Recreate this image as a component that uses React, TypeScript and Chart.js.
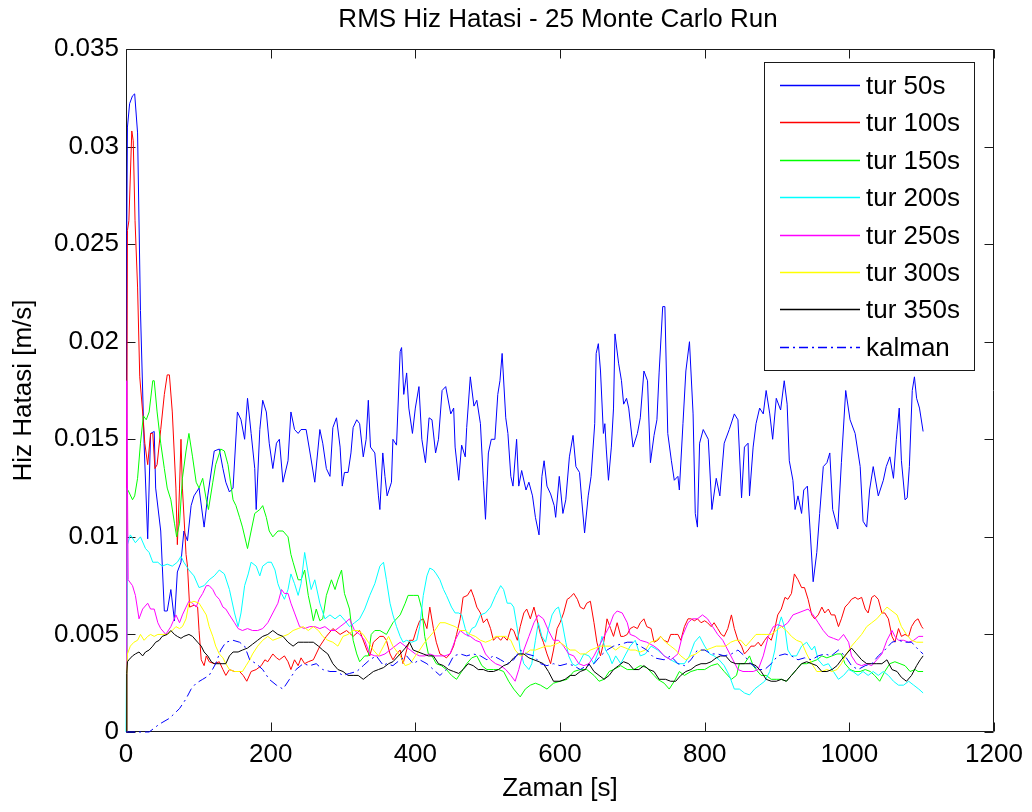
import React, { useEffect, useRef } from "react";
import { Chart, registerables } from "chart.js";

Chart.register(...registerables);

const TITLE = "RMS Hiz Hatasi - 25 Monte Carlo Run";
const X_LABEL = "Zaman [s]";
const Y_LABEL = "Hiz Hatasi [m/s]";
const X_TICKS = [0, 200, 400, 600, 800, 1000, 1200];
const Y_TICKS = [0, 0.005, 0.01, 0.015, 0.02, 0.025, 0.03, 0.035];

const SERIES_LABELS = ["tur 50s", "tur 100s", "tur 150s", "tur 200s", "tur 250s", "tur 300s", "tur 350s", "kalman"];
const SERIES_COLORS = ["#0000ff", "#ff0000", "#00ff00", "#00ffff", "#ff00ff", "#ffff00", "#000000", "#0000ff"];

const TUR50: [number, number][] = [[0,0],[1,0.0255],[2,0.031],[5,0.0322],[9,0.0326],[12,0.0327],[16,0.0307],[20,0.0216],[25,0.0148],[30,0.0099],[34,0.0153],[39,0.0154],[41,0.0125],[48,0.0103],[53,0.0062],[57,0.0062],[62,0.0073],[67,0.0057],[71,0.0082],[76,0.0087],[80,0.0103],[85,0.0098],[90,0.0116],[94,0.0121],[101,0.0125],[108,0.0105],[113,0.0121],[122,0.0144],[129,0.0145],[134,0.0135],[138,0.0128],[143,0.0123],[148,0.0125],[154,0.0164],[159,0.016],[164,0.015],[168,0.0171],[173,0.0153],[178,0.0135],[180,0.0114],[185,0.0155],[189,0.017],[194,0.0164],[198,0.0148],[203,0.0135],[208,0.0148],[212,0.015],[217,0.0128],[224,0.0139],[228,0.0164],[233,0.0155],[238,0.0153],[242,0.0155],[249,0.0155],[254,0.0144],[261,0.0128],[268,0.0155],[272,0.0148],[277,0.0135],[282,0.0131],[286,0.0156],[291,0.0161],[296,0.0146],[299,0.0126],[302,0.0133],[307,0.0133],[311,0.0143],[314,0.0156],[319,0.016],[323,0.0158],[328,0.0141],[332,0.015],[335,0.017],[338,0.0146],[344,0.0143],[349,0.0121],[351,0.0114],[355,0.0143],[358,0.0131],[361,0.0121],[367,0.0128],[369,0.015],[374,0.0147],[379,0.0195],[381,0.0197],[384,0.0173],[388,0.0184],[391,0.0166],[396,0.0153],[400,0.0166],[405,0.0177],[409,0.015],[414,0.0138],[419,0.0161],[423,0.016],[428,0.0143],[432,0.015],[437,0.0175],[442,0.0177],[449,0.0163],[453,0.0166],[455,0.0146],[460,0.0129],[464,0.0147],[469,0.0141],[471,0.0156],[476,0.0182],[481,0.0167],[485,0.017],[490,0.0158],[494,0.0129],[497,0.0109],[501,0.0143],[505,0.015],[510,0.015],[514,0.0173],[517,0.018],[520,0.0194],[525,0.0161],[528,0.0153],[532,0.0131],[535,0.0126],[540,0.015],[543,0.0126],[547,0.0134],[553,0.0124],[557,0.0128],[562,0.0121],[566,0.011],[571,0.0101],[575,0.0131],[578,0.0139],[582,0.0126],[587,0.0122],[592,0.0116],[594,0.011],[599,0.0131],[604,0.0112],[608,0.0119],[613,0.0141],[618,0.0152],[622,0.0136],[627,0.0133],[630,0.0119],[634,0.0102],[639,0.0121],[643,0.0131],[648,0.0158],[650,0.0194],[653,0.0199],[656,0.0185],[660,0.0153],[662,0.0158],[664,0.0145],[667,0.0129],[671,0.0146],[674,0.0166],[676,0.0204],[681,0.0189],[685,0.018],[688,0.0168],[692,0.0171],[695,0.0166],[701,0.0146],[707,0.0153],[711,0.0161],[716,0.0185],[721,0.018],[725,0.0138],[730,0.0152],[734,0.016],[737,0.0184],[742,0.0218],[745,0.0218],[749,0.0153],[754,0.0139],[758,0.0129],[763,0.0131],[765,0.0124],[770,0.0158],[774,0.0185],[779,0.02],[784,0.0163],[787,0.0112],[790,0.0105],[793,0.0148],[798,0.0155],[805,0.015],[810,0.0114],[816,0.013],[821,0.0121],[827,0.0148],[834,0.0155],[841,0.0163],[846,0.016],[851,0.012],[855,0.0146],[860,0.0148],[862,0.0121],[867,0.0146],[871,0.0158],[876,0.0166],[881,0.0163],[885,0.0175],[890,0.0163],[894,0.015],[899,0.0171],[905,0.0165],[910,0.018],[914,0.0168],[917,0.0139],[922,0.0129],[925,0.0114],[929,0.0121],[934,0.0112],[937,0.0124],[942,0.0126],[946,0.0102],[950,0.0077],[955,0.0092],[959,0.0112],[964,0.0136],[969,0.0138],[973,0.0143],[977,0.0114],[984,0.0104],[989,0.0138],[995,0.0175],[1001,0.016],[1008,0.0153],[1015,0.0136],[1019,0.0108],[1024,0.0105],[1028,0.0124],[1033,0.0136],[1040,0.0121],[1047,0.0129],[1051,0.0136],[1056,0.0141],[1061,0.013],[1065,0.015],[1069,0.0166],[1072,0.0139],[1077,0.0119],[1080,0.012],[1083,0.0136],[1087,0.0175],[1090,0.0182],[1093,0.0171],[1097,0.0166],[1102,0.0154]];

const TUR100: [number, number][] = [[0,0],[1,0.0148],[2,0.0257],[4,0.0262],[8,0.0308],[10,0.0303],[12.5,0.0262],[16,0.0228],[19,0.0182],[23,0.0164],[26,0.0148],[30,0.0137],[34,0.0153],[37,0.0153],[40,0.0135],[43,0.0137],[48,0.0155],[53,0.0173],[57,0.0183],[60,0.0183],[64,0.0164],[69,0.0125],[71,0.0096],[74,0.0125],[76,0.015],[78,0.0125],[83,0.0091],[85,0.0085],[88,0.0064],[94,0.0065],[99,0.0064],[101,0.0052],[104,0.0037],[108,0.0034],[111,0.0039],[115,0.0036],[122,0.0035],[129,0.0036],[134,0.0032],[138,0.0029],[143,0.0032],[150,0.0031],[157,0.0031],[162,0.0029],[167,0.0026],[173,0.0031],[180,0.0032],[187,0.0034],[192,0.0037],[196,0.0036],[203,0.004],[208,0.0038],[212,0.0037],[219,0.0039],[224,0.0036],[228,0.0032],[233,0.0037],[238,0.0034],[242,0.0038],[247,0.0035],[252,0.0036],[259,0.0037],[268,0.0044],[277,0.0049],[286,0.0053],[296,0.005],[305,0.0052],[314,0.0049],[323,0.0052],[333,0.0042],[337,0.0039],[342,0.0046],[351,0.0049],[356,0.0049],[360,0.0047],[365,0.004],[369,0.0037],[374,0.004],[379,0.0042],[383,0.0035],[388,0.0042],[392,0.0047],[397,0.0047],[402,0.0053],[406,0.0057],[411,0.0058],[416,0.0053],[420,0.0064],[425,0.0053],[429,0.0046],[434,0.004],[439,0.0039],[443,0.0038],[448,0.004],[453,0.0044],[457,0.005],[462,0.0058],[466,0.0069],[472,0.007],[477,0.0073],[481,0.0069],[485,0.0064],[490,0.0061],[494,0.0056],[499,0.0058],[504,0.0053],[508,0.0047],[513,0.0049],[518,0.0047],[522,0.0049],[527,0.0047],[532,0.0053],[536,0.0052],[541,0.0047],[545,0.0054],[550,0.0061],[554,0.0063],[559,0.0058],[564,0.0064],[568,0.0058],[573,0.005],[577,0.0046],[582,0.004],[587,0.0035],[591,0.0042],[596,0.0053],[600,0.0056],[605,0.0061],[610,0.0068],[614,0.0069],[619,0.0071],[624,0.0068],[628,0.0064],[633,0.0063],[637,0.0066],[642,0.0067],[647,0.0056],[651,0.0046],[656,0.0039],[661,0.0047],[665,0.0058],[670,0.0053],[674,0.0049],[679,0.0056],[684,0.0049],[688,0.0049],[693,0.005],[697,0.0053],[702,0.0054],[707,0.0053],[711,0.0056],[716,0.0058],[720,0.0054],[726,0.0053],[730,0.0046],[735,0.0047],[739,0.0049],[744,0.0047],[749,0.0046],[753,0.005],[758,0.005],[763,0.005],[767,0.0047],[772,0.0054],[777,0.0058],[781,0.0058],[786,0.0057],[790,0.0058],[795,0.0056],[800,0.0057],[804,0.0056],[809,0.0054],[813,0.0056],[818,0.0053],[823,0.005],[827,0.0049],[832,0.0053],[837,0.006],[841,0.0053],[846,0.0047],[851,0.0044],[855,0.004],[860,0.0042],[864,0.0044],[869,0.0044],[874,0.0046],[878,0.0044],[883,0.0047],[887,0.0049],[892,0.0047],[897,0.0053],[901,0.006],[906,0.0063],[911,0.0069],[915,0.0068],[920,0.0071],[924,0.0081],[929,0.0078],[934,0.0074],[938,0.0074],[943,0.0068],[948,0.006],[952,0.0058],[957,0.006],[962,0.0064],[966,0.0061],[971,0.0063],[975,0.006],[980,0.006],[985,0.0054],[989,0.0058],[994,0.0064],[999,0.0066],[1003,0.0068],[1008,0.0069],[1012,0.0068],[1017,0.0069],[1022,0.0063],[1026,0.0061],[1031,0.0069],[1035,0.007],[1040,0.0068],[1045,0.0061],[1049,0.0061],[1054,0.0058],[1059,0.0049],[1063,0.0046],[1068,0.0053],[1072,0.0049],[1077,0.005],[1082,0.0049],[1086,0.0054],[1091,0.0057],[1095,0.0058],[1100,0.0054],[1102,0.0053]];

const TUR150: [number, number][] = [[0,0],[1,0.0125],[4,0.0123],[9,0.0119],[12,0.0121],[16,0.013],[20,0.0148],[24,0.0162],[28,0.016],[32,0.0164],[37,0.018],[39,0.018],[43,0.0164],[48,0.0148],[53,0.0135],[57,0.0125],[62,0.0119],[67,0.0107],[70,0.01],[74,0.0107],[78,0.013],[83,0.0144],[87,0.0153],[92,0.0141],[97,0.0128],[101,0.0125],[106,0.013],[111,0.0119],[114,0.0114],[120,0.0128],[124,0.0137],[131,0.0145],[136,0.0144],[141,0.0137],[148,0.0119],[152,0.0116],[157,0.011],[161,0.0105],[168,0.0094],[173,0.0103],[178,0.0112],[185,0.0114],[189,0.0116],[194,0.011],[198,0.0103],[203,0.01],[210,0.0103],[217,0.0103],[224,0.01],[228,0.0091],[231,0.0087],[238,0.0078],[242,0.0078],[247,0.0083],[252,0.007],[256,0.0063],[259,0.0057],[263,0.0063],[268,0.0057],[272,0.0058],[277,0.007],[284,0.0078],[289,0.0073],[293,0.0078],[298,0.0083],[302,0.0071],[309,0.0063],[314,0.0047],[319,0.004],[323,0.0036],[330,0.0039],[335,0.0039],[339,0.005],[344,0.0052],[351,0.0052],[360,0.005],[369,0.0056],[379,0.006],[386,0.0066],[390,0.007],[397,0.007],[404,0.007],[409,0.0063],[413,0.0049],[418,0.004],[423,0.0039],[429,0.0035],[436,0.0034],[443,0.0032],[450,0.0029],[457,0.0027],[464,0.0031],[471,0.0035],[478,0.0038],[485,0.0039],[492,0.0034],[499,0.0032],[508,0.0032],[515,0.0032],[522,0.0031],[529,0.0026],[536,0.0022],[545,0.0018],[552,0.0022],[559,0.0024],[566,0.0025],[573,0.0024],[582,0.0022],[591,0.0025],[600,0.0026],[610,0.0027],[619,0.0031],[628,0.0032],[637,0.0032],[647,0.0029],[654,0.0026],[661,0.0027],[668,0.0031],[674,0.0032],[684,0.0034],[693,0.0032],[702,0.0032],[711,0.0034],[720,0.0033],[730,0.0029],[735,0.0027],[744,0.0025],[751,0.0022],[758,0.0026],[765,0.0031],[772,0.0029],[781,0.0031],[790,0.0032],[800,0.0032],[809,0.0034],[818,0.0035],[827,0.0031],[837,0.0027],[844,0.0029],[848,0.0035],[855,0.0035],[862,0.0039],[867,0.0034],[871,0.0032],[878,0.0029],[885,0.0029],[892,0.0027],[899,0.0027],[906,0.0027],[913,0.0026],[920,0.0029],[927,0.0032],[934,0.0035],[941,0.0035],[948,0.0036],[955,0.0037],[962,0.0039],[969,0.0038],[976,0.0039],[983,0.004],[989,0.004],[994,0.0035],[1001,0.0032],[1008,0.0031],[1015,0.0031],[1022,0.0032],[1029,0.0031],[1035,0.0029],[1042,0.0026],[1049,0.0031],[1056,0.0035],[1063,0.0036],[1070,0.0035],[1077,0.0034],[1084,0.0031],[1091,0.0032],[1095,0.0031],[1102,0.0031]];

const TUR200: [number, number][] = [[0,0],[2,0.0096],[6,0.0101],[13,0.0097],[20,0.01],[27,0.0094],[32,0.0092],[37,0.0087],[44,0.0087],[50,0.0085],[57,0.0086],[64,0.0085],[71,0.0087],[76,0.009],[80,0.0087],[87,0.0083],[94,0.008],[101,0.0074],[108,0.0075],[115,0.0078],[122,0.008],[129,0.0083],[136,0.0081],[143,0.0073],[150,0.0061],[155,0.0054],[159,0.0061],[164,0.0075],[169,0.0081],[173,0.0087],[180,0.0085],[185,0.008],[189,0.0085],[196,0.0087],[201,0.0087],[206,0.0083],[210,0.0076],[215,0.0071],[219,0.0068],[224,0.0073],[228,0.0081],[233,0.0076],[238,0.007],[242,0.0076],[247,0.0092],[252,0.0081],[256,0.0073],[261,0.0078],[268,0.0066],[275,0.0058],[282,0.006],[289,0.0058],[296,0.006],[303,0.0057],[309,0.0054],[316,0.0056],[323,0.0058],[330,0.0063],[337,0.007],[344,0.0076],[351,0.0085],[356,0.0087],[360,0.0078],[365,0.0066],[369,0.006],[374,0.0054],[379,0.0049],[383,0.0046],[388,0.0047],[395,0.0046],[402,0.0047],[406,0.0054],[411,0.007],[416,0.008],[420,0.0084],[425,0.0083],[429,0.0081],[434,0.0078],[439,0.0073],[443,0.007],[450,0.0064],[455,0.0061],[460,0.0061],[464,0.006],[469,0.0053],[473,0.0049],[478,0.0053],[483,0.0054],[490,0.006],[497,0.0061],[504,0.0064],[511,0.007],[518,0.0075],[522,0.0073],[527,0.0066],[532,0.0066],[536,0.0064],[541,0.0053],[545,0.0042],[550,0.0035],[557,0.0032],[561,0.0035],[566,0.0047],[570,0.0056],[575,0.0049],[580,0.0046],[584,0.0053],[589,0.006],[594,0.0063],[598,0.0064],[603,0.0056],[608,0.0046],[612,0.0039],[617,0.0035],[621,0.0034],[626,0.0035],[633,0.004],[640,0.0039],[647,0.0035],[654,0.0042],[658,0.0049],[663,0.0042],[668,0.0039],[672,0.0035],[677,0.0039],[684,0.0035],[691,0.004],[697,0.0044],[704,0.0047],[711,0.0039],[718,0.004],[726,0.0044],[735,0.0042],[744,0.0039],[753,0.0037],[763,0.0035],[772,0.0035],[779,0.0039],[786,0.0046],[793,0.0049],[800,0.0044],[807,0.004],[813,0.0039],[820,0.0037],[827,0.0034],[834,0.0029],[841,0.0022],[848,0.0022],[855,0.002],[862,0.0019],[869,0.0022],[876,0.0024],[883,0.0026],[890,0.0031],[897,0.0042],[901,0.0053],[906,0.0059],[911,0.0053],[915,0.0042],[920,0.0039],[927,0.0039],[934,0.0044],[941,0.0046],[948,0.0042],[952,0.0044],[957,0.0037],[964,0.0034],[971,0.0035],[978,0.0031],[985,0.0027],[992,0.0029],[999,0.0032],[1005,0.0031],[1012,0.0029],[1019,0.0031],[1026,0.0029],[1033,0.0031],[1040,0.0029],[1047,0.0031],[1054,0.0029],[1061,0.0026],[1068,0.0024],[1075,0.0024],[1082,0.0026],[1089,0.0024],[1096,0.0022],[1102,0.002]];

const TUR250: [number, number][] = [[0,0],[1,0.018],[3,0.0078],[9,0.0075],[13,0.007],[18,0.0058],[23,0.0063],[30,0.0066],[34,0.0063],[39,0.0063],[44,0.0056],[48,0.0053],[55,0.005],[62,0.0054],[69,0.006],[74,0.0056],[78,0.006],[83,0.0064],[87,0.0067],[92,0.0066],[97,0.0064],[101,0.0068],[106,0.0071],[111,0.0075],[115,0.0075],[120,0.0073],[124,0.007],[129,0.0068],[134,0.0064],[138,0.0063],[143,0.006],[150,0.0056],[155,0.0053],[161,0.0052],[168,0.0053],[175,0.0052],[182,0.0052],[189,0.0053],[196,0.0056],[203,0.0061],[210,0.0066],[215,0.0073],[219,0.0071],[224,0.0071],[228,0.0066],[233,0.0061],[240,0.0054],[247,0.0053],[254,0.0054],[261,0.0054],[268,0.0053],[275,0.0054],[282,0.0052],[289,0.0052],[296,0.0054],[303,0.0056],[309,0.0058],[316,0.0052],[323,0.005],[330,0.0047],[337,0.004],[344,0.0039],[351,0.0039],[358,0.004],[365,0.0042],[372,0.0044],[379,0.0046],[386,0.0044],[393,0.0042],[400,0.004],[406,0.0039],[413,0.0039],[420,0.004],[427,0.0039],[434,0.0039],[441,0.0039],[448,0.004],[455,0.0047],[462,0.0052],[469,0.005],[476,0.0049],[483,0.0047],[490,0.0046],[497,0.004],[504,0.0037],[511,0.0035],[518,0.0034],[525,0.0032],[532,0.0029],[538,0.0026],[543,0.0032],[550,0.0042],[557,0.0049],[564,0.0056],[570,0.006],[577,0.0058],[584,0.0052],[591,0.0047],[598,0.0047],[605,0.0044],[612,0.004],[619,0.0039],[626,0.0035],[633,0.0034],[640,0.0035],[647,0.0039],[654,0.0044],[661,0.0049],[668,0.0054],[674,0.006],[679,0.0062],[686,0.0061],[693,0.0056],[697,0.005],[704,0.0049],[711,0.0047],[720,0.0046],[730,0.0044],[737,0.0042],[744,0.0039],[753,0.0037],[763,0.004],[769,0.0049],[777,0.0056],[783,0.0058],[790,0.0058],[797,0.006],[804,0.0058],[811,0.0054],[818,0.005],[825,0.0047],[832,0.0042],[839,0.0037],[846,0.0032],[853,0.0031],[860,0.0031],[867,0.0031],[874,0.0032],[881,0.0039],[888,0.0049],[895,0.0054],[901,0.0055],[908,0.0054],[915,0.0056],[922,0.006],[929,0.0061],[936,0.0062],[943,0.0063],[950,0.006],[957,0.0056],[964,0.0052],[971,0.0049],[978,0.0048],[985,0.0047],[992,0.005],[999,0.0046],[1003,0.0039],[1010,0.0035],[1017,0.0034],[1024,0.0035],[1031,0.0034],[1038,0.0037],[1045,0.004],[1052,0.0047],[1059,0.0052],[1063,0.0049],[1068,0.0047],[1075,0.0047],[1082,0.0046],[1089,0.0047],[1096,0.0049],[1102,0.0049]];

const TUR300: [number, number][] = [[0,0],[1,0.0029],[2,0.004],[6,0.0044],[11,0.0046],[16,0.0047],[20,0.005],[25,0.0047],[30,0.0049],[34,0.005],[39,0.0049],[44,0.005],[50,0.005],[57,0.005],[64,0.0052],[69,0.0054],[74,0.0053],[78,0.0054],[83,0.0058],[87,0.0066],[94,0.0067],[101,0.0066],[106,0.0063],[111,0.006],[115,0.0054],[120,0.0049],[124,0.0044],[129,0.004],[134,0.0038],[138,0.0035],[143,0.0032],[150,0.0031],[157,0.0031],[161,0.0031],[166,0.0034],[171,0.0037],[175,0.004],[182,0.0044],[189,0.0047],[196,0.0049],[203,0.0047],[210,0.0048],[217,0.0049],[224,0.005],[231,0.0052],[238,0.0053],[245,0.0054],[252,0.0052],[259,0.0054],[266,0.0052],[272,0.0049],[279,0.0047],[286,0.0046],[293,0.0044],[300,0.0049],[307,0.005],[314,0.0052],[321,0.0052],[328,0.005],[335,0.0046],[342,0.0042],[349,0.0039],[356,0.0044],[363,0.0049],[369,0.0044],[379,0.0039],[386,0.0034],[393,0.0035],[400,0.0039],[406,0.0042],[413,0.0046],[420,0.0049],[427,0.0052],[434,0.0056],[441,0.0056],[448,0.0055],[455,0.0054],[462,0.0052],[469,0.0052],[476,0.005],[483,0.0049],[490,0.0047],[497,0.0046],[504,0.0047],[511,0.0049],[518,0.0049],[525,0.0049],[532,0.0047],[538,0.0042],[545,0.0039],[552,0.004],[559,0.0042],[566,0.0042],[573,0.0043],[580,0.0044],[587,0.0044],[594,0.0045],[600,0.0046],[607,0.0044],[614,0.0042],[621,0.0042],[628,0.004],[635,0.004],[642,0.0042],[649,0.0043],[656,0.0044],[663,0.0044],[670,0.0044],[677,0.0042],[684,0.0044],[691,0.0043],[697,0.0042],[704,0.0042],[711,0.0041],[718,0.0042],[725,0.0046],[733,0.0047],[739,0.0049],[746,0.0046],[753,0.0044],[760,0.0042],[767,0.0039],[774,0.0037],[781,0.0039],[788,0.004],[795,0.0042],[802,0.0042],[809,0.0043],[816,0.0044],[822,0.0044],[829,0.0044],[836,0.0046],[843,0.0047],[850,0.0047],[857,0.0044],[864,0.0047],[871,0.005],[878,0.005],[885,0.005],[892,0.005],[899,0.0052],[906,0.0054],[913,0.0052],[920,0.0049],[927,0.0047],[934,0.0046],[941,0.004],[948,0.0035],[955,0.0031],[962,0.0031],[969,0.0032],[976,0.0031],[983,0.0032],[989,0.0035],[996,0.004],[1003,0.0044],[1010,0.0047],[1017,0.005],[1024,0.0054],[1031,0.0056],[1038,0.0058],[1045,0.0061],[1052,0.0064],[1059,0.0062],[1066,0.006],[1072,0.0054],[1079,0.005],[1086,0.0047],[1093,0.0046],[1102,0.0046]];

const TUR350: [number, number][] = [[0,0],[1,0.003],[2,0.0036],[4,0.0037],[9,0.0039],[13,0.004],[18,0.0041],[23,0.0039],[27,0.0041],[32,0.0042],[37,0.0044],[41,0.0046],[46,0.0047],[50,0.0049],[57,0.005],[62,0.0052],[67,0.005],[71,0.0049],[76,0.0048],[80,0.0049],[87,0.005],[92,0.0049],[99,0.0046],[104,0.0044],[108,0.0041],[113,0.0039],[118,0.0036],[122,0.0035],[129,0.0035],[134,0.0035],[138,0.0035],[143,0.0039],[148,0.0041],[155,0.0041],[161,0.0042],[168,0.0043],[175,0.0045],[182,0.0047],[189,0.0049],[196,0.005],[203,0.0052],[210,0.005],[217,0.0049],[224,0.0046],[231,0.0044],[238,0.0046],[245,0.0046],[252,0.0046],[259,0.0046],[266,0.0044],[272,0.0042],[279,0.004],[286,0.0035],[293,0.0032],[300,0.0031],[307,0.0029],[314,0.0029],[321,0.0029],[328,0.0027],[335,0.0029],[342,0.0031],[349,0.0032],[356,0.0033],[363,0.0035],[369,0.0036],[379,0.004],[386,0.0043],[392,0.0046],[397,0.0042],[404,0.0041],[411,0.004],[418,0.0039],[425,0.0039],[432,0.0035],[439,0.0034],[446,0.0032],[453,0.0031],[460,0.003],[466,0.0032],[473,0.0035],[480,0.0034],[487,0.0032],[494,0.0032],[501,0.0031],[508,0.0031],[515,0.0032],[522,0.0034],[529,0.0035],[536,0.0038],[543,0.004],[550,0.004],[557,0.0038],[564,0.0037],[571,0.0036],[577,0.0035],[584,0.0031],[591,0.0026],[600,0.0026],[607,0.0027],[614,0.0029],[621,0.0029],[628,0.0031],[635,0.0032],[640,0.0035],[647,0.0031],[654,0.0029],[661,0.0027],[668,0.0029],[674,0.0032],[681,0.0034],[688,0.0036],[695,0.0035],[702,0.0032],[709,0.0032],[716,0.0034],[723,0.0032],[730,0.0031],[737,0.0027],[746,0.0027],[753,0.0026],[760,0.0026],[767,0.0029],[774,0.0031],[781,0.0032],[788,0.0034],[795,0.0035],[802,0.0035],[809,0.0036],[816,0.0038],[822,0.0039],[829,0.0039],[836,0.0036],[843,0.0035],[850,0.0035],[857,0.0035],[864,0.0035],[871,0.0034],[878,0.0031],[885,0.0027],[892,0.0026],[899,0.0026],[906,0.0027],[913,0.0026],[920,0.0029],[927,0.0032],[934,0.0035],[941,0.0036],[948,0.0035],[955,0.0034],[962,0.0031],[969,0.0031],[976,0.0032],[983,0.0034],[989,0.0037],[996,0.004],[1003,0.0043],[1010,0.004],[1017,0.0037],[1024,0.0035],[1031,0.0035],[1038,0.0035],[1045,0.0035],[1052,0.0037],[1059,0.0032],[1066,0.0031],[1072,0.0028],[1079,0.0026],[1086,0.0029],[1093,0.0034],[1098,0.0037],[1102,0.0039]];

const KALMAN: [number, number][] = [[0,0],[18,0],[32,0],[46,0.0004],[60,0.0007],[74,0.0012],[83,0.0017],[90,0.0022],[97,0.0025],[106,0.0027],[115,0.0029],[124,0.0035],[131,0.0042],[138,0.0046],[148,0.0047],[157,0.0046],[164,0.0044],[171,0.0037],[180,0.0035],[189,0.0032],[198,0.0027],[208,0.0024],[217,0.0022],[226,0.0027],[235,0.0032],[245,0.0035],[254,0.0034],[263,0.0035],[272,0.0032],[282,0.0031],[291,0.0031],[300,0.0029],[309,0.003],[319,0.0031],[328,0.0034],[337,0.0037],[346,0.0039],[356,0.0034],[360,0.0035],[369,0.0034],[379,0.0037],[388,0.0039],[397,0.0035],[406,0.0037],[416,0.0035],[425,0.0032],[434,0.0029],[443,0.0032],[453,0.0039],[462,0.004],[471,0.0039],[480,0.004],[490,0.0039],[499,0.0037],[508,0.0039],[518,0.0037],[527,0.0035],[536,0.0037],[545,0.0042],[554,0.004],[564,0.0039],[573,0.0035],[582,0.0034],[591,0.0035],[600,0.0034],[610,0.0035],[619,0.0034],[628,0.0032],[637,0.0034],[647,0.0035],[656,0.0039],[665,0.0042],[674,0.0044],[684,0.0045],[693,0.0046],[702,0.0046],[711,0.0044],[720,0.0042],[730,0.0038],[744,0.0037],[753,0.0039],[763,0.0035],[772,0.0034],[781,0.0037],[790,0.0042],[800,0.0042],[809,0.004],[818,0.004],[827,0.0039],[837,0.004],[846,0.0042],[855,0.0039],[864,0.0035],[874,0.0032],[883,0.0032],[892,0.0035],[901,0.0039],[911,0.004],[920,0.0039],[929,0.0037],[938,0.0038],[948,0.0037],[957,0.0039],[966,0.004],[975,0.0039],[985,0.0042],[994,0.0039],[1003,0.0034],[1012,0.0032],[1022,0.0034],[1031,0.0035],[1040,0.0039],[1049,0.0042],[1059,0.0046],[1068,0.0047],[1077,0.0046],[1086,0.0046],[1096,0.0042],[1102,0.004]];

const SERIES_DATA = [TUR50, TUR100, TUR150, TUR200, TUR250, TUR300, TUR350, KALMAN];
const KALMAN_DASH = [9, 4, 2, 4];

const FONT_FAMILY = "'Liberation Sans', Arial, Helvetica, sans-serif";
const FONT_SIZE = 26;

const framePlugin = {
  id: "matlabFrame",
  beforeDatasetsDraw(chart: any) {
    const { ctx, chartArea: a, scales } = chart;
    const L = Math.round(a.left) + 0.5;
    const R = Math.round(a.right) - 0.5;
    const T = Math.round(a.top) + 0.5;
    const B = Math.round(a.bottom) - 0.5;
    const len = 9;
    ctx.save();
    ctx.setLineDash([]);
    ctx.strokeStyle = "#1a1a1a";
    ctx.lineWidth = 1;
    ctx.beginPath();
    ctx.rect(L, T, R - L, B - T);
    for (const v of X_TICKS) {
      const px = Math.round(scales.x.getPixelForValue(v)) + 0.5;
      ctx.moveTo(px, B); ctx.lineTo(px, B - len);
      ctx.moveTo(px, T); ctx.lineTo(px, T + len);
    }
    for (const v of Y_TICKS) {
      const py = Math.round(scales.y.getPixelForValue(v)) + 0.5;
      ctx.moveTo(L, py); ctx.lineTo(L + len, py);
      ctx.moveTo(R, py); ctx.lineTo(R - len, py);
    }
    ctx.stroke();
    ctx.restore();
  },
};

const legendPlugin = {
  id: "matlabLegend",
  afterDraw(chart: any) {
    const { ctx } = chart;
    const x0 = 764.5, y0 = 62.5, w = 210, h = 308;
    ctx.save();
    ctx.fillStyle = "#ffffff";
    ctx.fillRect(x0, y0, w, h);
    ctx.setLineDash([]);
    ctx.strokeStyle = "#1a1a1a";
    ctx.lineWidth = 1;
    ctx.strokeRect(x0, y0, w, h);
    ctx.font = `${FONT_SIZE}px ${FONT_FAMILY}`;
    ctx.textBaseline = "middle";
    ctx.textAlign = "left";
    for (let i = 0; i < SERIES_LABELS.length; i++) {
      const y = Math.round(85 + i * 37.4) + 0.5;
      ctx.beginPath();
      ctx.setLineDash(i === 7 ? KALMAN_DASH : []);
      ctx.strokeStyle = SERIES_COLORS[i];
      ctx.lineWidth = 1.5;
      ctx.moveTo(780, y);
      ctx.lineTo(860, y);
      ctx.stroke();
      ctx.setLineDash([]);
      ctx.fillStyle = "#000000";
      ctx.fillText(SERIES_LABELS[i], 866, y + 1.5);
    }
    ctx.restore();
  },
};

const titlePlugin = {
  id: "matlabTitle",
  afterDraw(chart: any) {
    const { ctx, chartArea: a } = chart;
    ctx.save();
    ctx.font = `${FONT_SIZE}px ${FONT_FAMILY}`;
    ctx.fillStyle = "#000";
    ctx.textAlign = "center";
    ctx.textBaseline = "alphabetic";
    ctx.fillText(TITLE, (a.left + a.right) / 2 - 2, 27);
    ctx.restore();
  },
};

export default function App() {
  const ref = useRef<HTMLCanvasElement | null>(null);

  useEffect(() => {
    if (!ref.current) return;
    const font = { family: FONT_FAMILY, size: FONT_SIZE };
    const chart = new Chart(ref.current, {
      type: "line",
      data: {
        datasets: SERIES_DATA.map((pts, i) => ({
          label: SERIES_LABELS[i],
          data: pts.map(([x, y]) => ({ x, y })),
          borderColor: SERIES_COLORS[i],
          backgroundColor: SERIES_COLORS[i],
          borderWidth: 1,
          borderDash: i === 7 ? KALMAN_DASH : [],
          pointRadius: 0,
          tension: 0,
          fill: false,
          clip: 3,
          order: 20 - i,
        })),
      },
      options: {
        responsive: false,
        maintainAspectRatio: false,
        animation: false,
        devicePixelRatio: 1,
        parsing: false as any,
        normalized: true,
        layout: { padding: { top: 49, right: 38, left: 0, bottom: 0 } },
        plugins: {
          legend: { display: false },
          title: { display: false },
          tooltip: { enabled: false },
        },
        scales: {
          x: {
            type: "linear",
            min: 0,
            max: 1200,
            afterBuildTicks: (s: any) => { s.ticks = X_TICKS.map((v) => ({ value: v })); },
            afterFit: (s: any) => { s.height = 80; },
            ticks: {
              font,
              color: "#000",
              padding: 7,
              maxRotation: 0,
              autoSkip: false,
              callback: (v: any) => String(v),
            },
            grid: { display: false, drawTicks: false },
            border: { display: false },
            title: { display: true, text: X_LABEL, font, color: "#000", padding: { top: 0, bottom: 8 } },
          },
          y: {
            type: "linear",
            min: 0,
            max: 0.035,
            afterBuildTicks: (s: any) => { s.ticks = Y_TICKS.map((v) => ({ value: v })); },
            afterFit: (s: any) => { s.width = 126; },
            ticks: {
              font,
              color: "#000",
              padding: 7,
              autoSkip: false,
              callback: (v: any) => String(Number(Number(v).toFixed(3))),
            },
            grid: { display: false, drawTicks: false },
            border: { display: false },
            title: { display: true, text: Y_LABEL, font, color: "#000", padding: { top: 8, bottom: 0 } },
          },
        },
      } as any,
      plugins: [framePlugin, legendPlugin, titlePlugin],
    });
    return () => chart.destroy();
  }, []);

  return (
    <div style={{ position: "absolute", left: 0, top: 0, width: 1032, height: 812, background: "#fff" }}>
      <canvas ref={ref} width={1032} height={812} style={{ display: "block", width: 1032, height: 812 }} />
    </div>
  );
}
